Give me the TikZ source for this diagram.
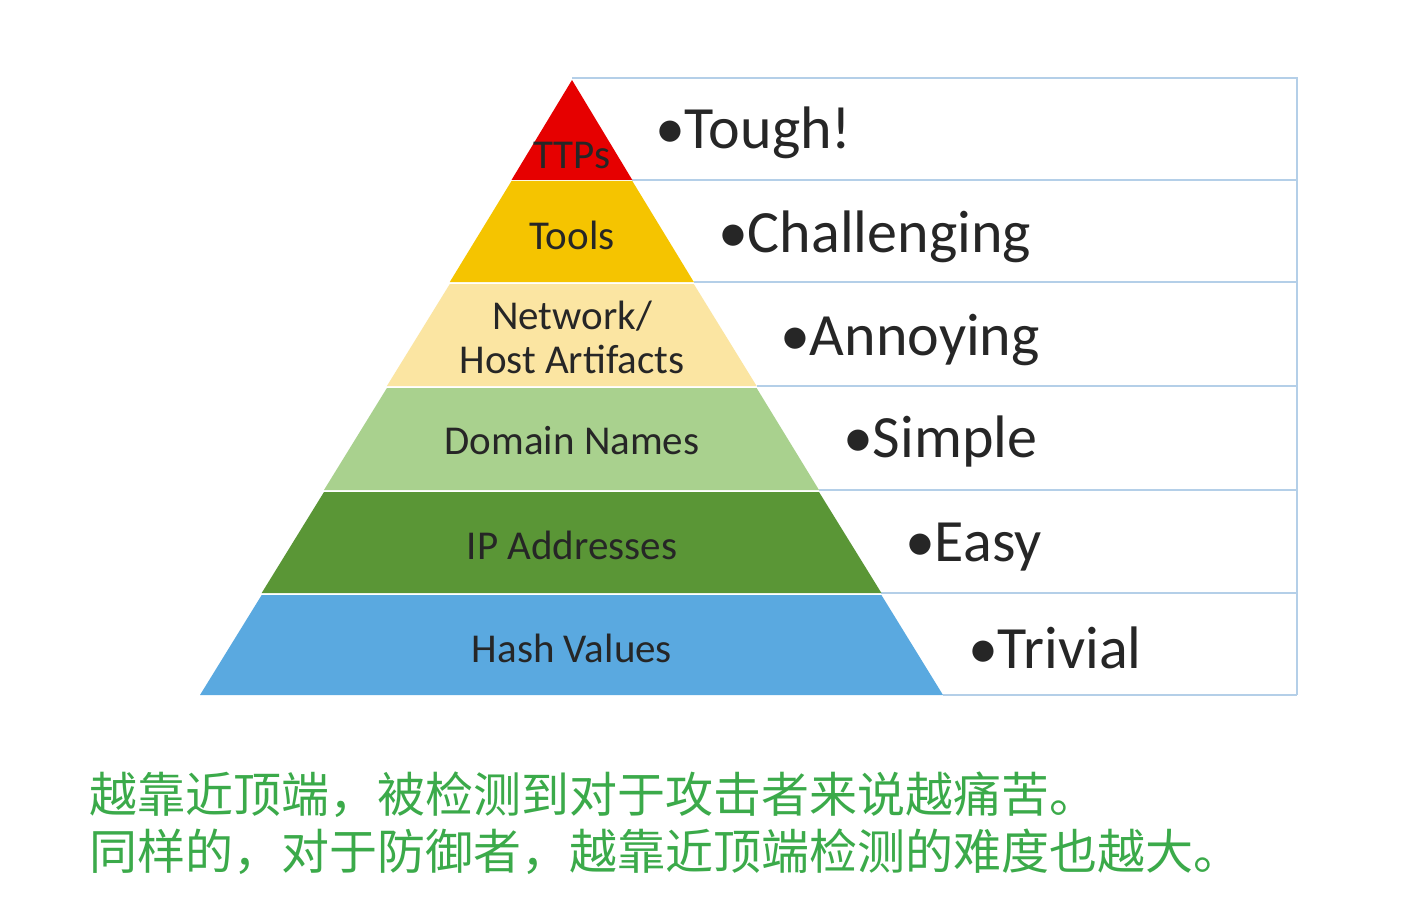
\documentclass[tikz,border=0pt]{standalone}
\usepackage{fontspec}
\setmainfont{Carlito}
\newfontfamily\cjk{Noto Sans CJK SC}
\definecolor{cred}{HTML}{E60000}
\definecolor{cyel}{HTML}{F5C400}
\definecolor{clyel}{HTML}{FBE5A2}
\definecolor{clgrn}{HTML}{A9D18E}
\definecolor{cgrn}{HTML}{5A9636}
\definecolor{cblu}{HTML}{5AA9E0}
\definecolor{cline}{HTML}{B4CFE8}
\definecolor{ctxt}{HTML}{3BAA4A}
\tikzset{lab/.style={font=\fontsize{20.5}{22}\selectfont, text=black!85, align=center},
big/.style={font=\fontsize{30}{32}\selectfont, anchor=west, text=black!85},
grid/.style={draw=cline, line width=1pt},
cn/.style={font=\cjk\fontsize{24}{27}\selectfont, text=ctxt, anchor=west}}
\begin{document}
\begin{tikzpicture}[x=0.5pt,y=-0.5pt]
\useasboundingbox (0,0) rectangle (1411,909);
\fill[white] (0,0) rectangle (1411,909);
% table
\draw[grid] (572,78) -- (1297,78) -- (1297,695);
\foreach \y/\x in {180/632.3,282/693.8,386/756.6,490/819,593/881.4,695/943}
  \draw[grid] (\x,\y) -- (1297,\y);
% pyramid
\fill[cred] (572,80) -- (632.3,180) -- (511.5,180) -- cycle;
\fill[cyel] (511.5,181) -- (632.3,181) -- (693.8,282) -- (449.8,282) -- cycle;
\fill[clyel] (449.8,284) -- (693.8,284) -- (756.6,386) -- (386.9,386) -- cycle;
\fill[clgrn] (386.9,388) -- (756.6,388) -- (819,490) -- (324,490) -- cycle;
\fill[cgrn] (324,492) -- (819,492) -- (881.4,593) -- (261.7,593) -- cycle;
\fill[cblu] (261.7,595) -- (881.4,595) -- (943,695) -- (200,695) -- cycle;
\node[lab] (l1) at (572,155) {TTPs};
\node[lab] (l2) at (572,235) {Tools};
\node[lab] (l3) at (572,337) {Network/\\Host Artifacts};
\node[lab] (l4) at (572,441) {Domain Names};
\node[lab] (l5) at (572,545) {IP Addresses};
\node[lab] (l6) at (572,648) {Hash Values};
\node[big] (b1) at (648,133) {•Tough!};
\node[big] (b2) at (711,237) {•Challenging};
\node[big] (b3) at (773,340) {•Annoying};
\node[big] (b4) at (836,442) {•Simple};
\node[big] (b5) at (898,547) {•Easy};
\node[big] (b6) at (961,648) {•Trivial};
\node[cn] (c1) at (82,795) {越靠近顶端，被检测到对于攻击者来说越痛苦。};
\node[cn] (c2) at (82,852) {同样的，对于防御者，越靠近顶端检测的难度也越大。};
\end{tikzpicture}
\end{document}
